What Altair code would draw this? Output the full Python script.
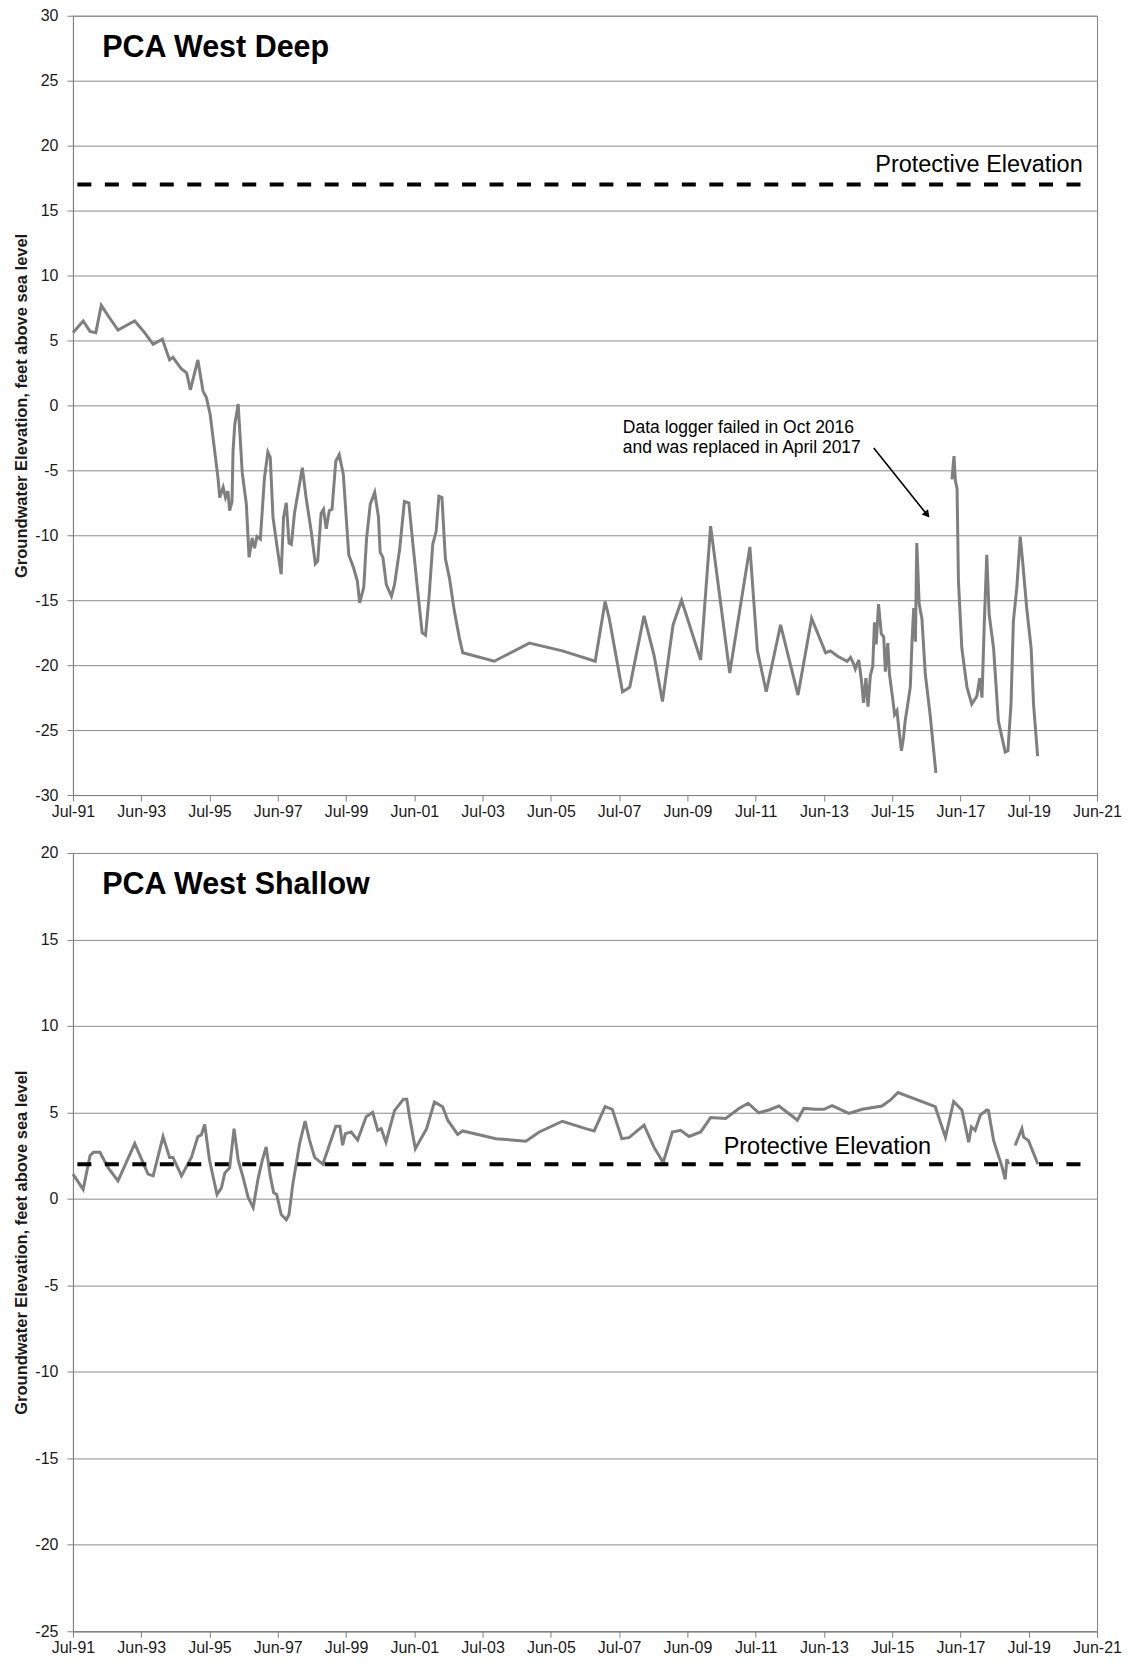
import altair as alt
import pandas as pd

FONT = "Liberation Sans"

# ---------------- data (decimal years, feet above sea level) ----------------
deep_years_a = [1991.5, 1991.8, 1992.0, 1992.17, 1992.33, 1992.53, 1992.82, 1993.31, 1993.6, 1993.85,
                1994.12, 1994.33, 1994.43, 1994.68, 1994.83, 1994.94, 1995.16, 1995.31, 1995.41, 1995.52,
                1995.75, 1995.8, 1995.9, 1995.97, 1996.04, 1996.09, 1996.16, 1996.19, 1996.24, 1996.34,
                1996.46, 1996.58, 1996.66, 1996.75, 1996.82, 1996.89, 1996.99, 1997.11, 1997.21, 1997.28,
                1997.36, 1997.47, 1997.6, 1997.67, 1997.75, 1997.83, 1997.9, 1997.99, 1998.22, 1998.33,
                1998.48, 1998.6, 1998.67, 1998.77, 1998.84, 1998.92, 1999.01, 1999.09, 1999.2, 1999.3,
                1999.42, 1999.58, 1999.72, 1999.83, 1999.9, 2000.02, 2000.1, 2000.21, 2000.34, 2000.45,
                2000.5, 2000.58, 2000.68, 2000.83, 2000.92, 2001.07, 2001.21, 2001.34, 2001.46, 2001.6,
                2001.73, 2001.83, 2001.93, 2002.04, 2002.14, 2002.22, 2002.31, 2002.41, 2002.53, 2002.67,
                2002.82, 2002.92, 2003.84, 2004.87, 2005.84, 2006.8, 2007.09, 2007.21, 2007.6, 2007.81,
                2008.23, 2008.52, 2008.77, 2009.08, 2009.33, 2009.89, 2010.18, 2010.74, 2011.33, 2011.55,
                2011.81, 2012.23, 2012.74, 2013.14, 2013.55, 2013.69, 2013.89, 2014.18, 2014.28, 2014.37,
                2014.42, 2014.52, 2014.6, 2014.66, 2014.73, 2014.79, 2014.86, 2014.93, 2014.98, 2015.03,
                2015.1, 2015.18, 2015.25, 2015.3, 2015.37, 2015.42, 2015.51, 2015.57, 2015.64, 2015.69,
                2015.77, 2015.83, 2015.88, 2016.03, 2016.08, 2016.13, 2016.18, 2016.22, 2016.29, 2016.37,
                2016.47, 2016.61, 2016.78]
deep_vals_a = [5.6, 6.5, 5.7, 5.6, 7.7, 6.9, 5.8, 6.5, 5.6, 4.7,
               5.1, 3.5, 3.7, 2.8, 2.5, 1.2, 3.5, 1.1, 0.6, -0.7,
               -5.6, -7.1, -6.3, -7.1, -6.6, -8.1, -7.4, -3.5, -1.5, 0.1,
               -5.2, -7.6, -11.7, -10.2, -11.0, -10.1, -10.3, -5.6, -3.6, -4.0,
               -8.6, -10.7, -13.0, -8.6, -7.5, -10.6, -10.7, -8.3, -4.8, -7.1,
               -9.7, -12.2, -12.0, -8.3, -8.0, -9.5, -8.1, -8.0, -4.3, -3.8,
               -5.3, -11.5, -12.5, -13.5, -15.2, -14.0, -10.3, -7.6, -6.7, -8.6,
               -11.3, -11.7, -13.8, -14.7, -13.8, -11.1, -7.4, -7.5, -10.7, -14.3,
               -17.5, -17.7, -14.8, -10.7, -9.7, -7.0, -7.1, -11.8, -13.3, -15.8,
               -17.9, -19.05, -19.7, -18.3, -18.9, -19.7, -15.1, -16.4, -22.05, -21.7,
               -16.2, -19.2, -22.8, -16.9, -15.0, -19.6, -9.3, -20.6, -10.9, -18.9,
               -22.05, -16.9, -22.3, -16.4, -19.05, -18.9, -19.3, -19.7, -19.4, -19.9,
               -20.3, -19.6, -21.2, -22.9, -21.0, -23.2, -20.8, -20.1, -16.7, -18.4,
               -15.3, -17.6, -17.8, -20.5, -18.3, -20.7, -22.5, -23.8, -23.5, -24.8,
               -26.6, -25.6, -24.3, -21.7, -18.2, -15.6, -18.2, -10.6, -15.3, -16.4,
               -20.7, -23.8, -28.3]
deep_years_b = [2017.25, 2017.31, 2017.35, 2017.4, 2017.44, 2017.54, 2017.69, 2017.83, 2017.98, 2018.06,
                2018.13, 2018.2, 2018.27, 2018.34, 2018.47, 2018.61, 2018.81, 2018.89, 2018.98, 2019.05,
                2019.15, 2019.25, 2019.32, 2019.44, 2019.57, 2019.64, 2019.76]
deep_vals_b = [-5.7, -3.9, -5.8, -6.4, -13.5, -18.7, -21.7, -23.0, -22.4, -21.0,
               -22.5, -16.6, -11.5, -16.1, -18.7, -24.3, -26.7, -26.6, -23.0, -16.6,
               -14.05, -10.1, -12.0, -15.6, -18.7, -23.0, -27.0]

shallow_years_a = [1991.5, 1991.8, 1992.0, 1992.1, 1992.29, 1992.53, 1992.82, 1993.31, 1993.7, 1993.85,
                   1994.14, 1994.33, 1994.43, 1994.68, 1994.97, 1995.16, 1995.26, 1995.36, 1995.5, 1995.72,
                   1995.85, 1995.95, 1996.09, 1996.22, 1996.34, 1996.48, 1996.63, 1996.78, 1996.92, 1997.05,
                   1997.16, 1997.28, 1997.38, 1997.47, 1997.6, 1997.75, 1997.83, 1997.94, 1998.14, 1998.3,
                   1998.43, 1998.58, 1998.82, 1999.01, 1999.2, 1999.32, 1999.4, 1999.48, 1999.65, 1999.84,
                   2000.09, 2000.28, 2000.43, 2000.53, 2000.67, 2000.92, 2001.18, 2001.28, 2001.36, 2001.53,
                   2001.86, 2002.09, 2002.33, 2002.48, 2002.77, 2002.92, 2003.89, 2004.77, 2005.16, 2005.84,
                   2006.52, 2006.77, 2007.09, 2007.3, 2007.58, 2007.79, 2008.23, 2008.52, 2008.79, 2009.06,
                   2009.3, 2009.55, 2009.89, 2010.18, 2010.62, 2011.01, 2011.28, 2011.59, 2011.89, 2012.18,
                   2012.47, 2012.72, 2012.91, 2013.25, 2013.5, 2013.74, 2014.23, 2014.62, 2015.2, 2015.45,
                   2015.67, 2016.76, 2017.06, 2017.3, 2017.54, 2017.74, 2017.82, 2017.93, 2018.08, 2018.27,
                   2018.32, 2018.47, 2018.61, 2018.71, 2018.81, 2018.86, 2018.91]
shallow_vals_a = [1.43, 0.55, 2.5, 2.7, 2.7, 1.8, 1.04, 3.2, 1.43, 1.33,
                  3.6, 2.4, 2.4, 1.33, 2.4, 3.6, 3.7, 4.3, 2.25, 0.25,
                  0.64, 1.5, 1.8, 4.06, 2.25, 1.27, 0.1, -0.5, 1.13, 2.25,
                  3.0, 1.33, 0.35, 0.25, -0.9, -1.2, -0.9, 0.84, 3.2, 4.5,
                  3.4, 2.4, 2.0, 3.1, 4.2, 4.2, 3.1, 3.77, 3.87, 3.4,
                  4.75, 5.0, 3.96, 4.06, 3.28, 5.1, 5.76, 5.76, 4.75, 2.9,
                  4.06, 5.6, 5.33, 4.55, 3.73, 3.93, 3.48, 3.34, 3.87, 4.49,
                  4.06, 3.93, 5.33, 5.18, 3.48, 3.54, 4.26, 2.99, 2.1, 3.87,
                  3.96, 3.61, 3.87, 4.7, 4.65, 5.23, 5.53, 4.98, 5.14, 5.37,
                  4.94, 4.55, 5.23, 5.18, 5.18, 5.39, 4.94, 5.18, 5.37, 5.72,
                  6.15, 5.33, 3.57, 5.63, 5.14, 3.28, 4.16, 3.96, 4.84, 5.14,
                  5.1, 3.38, 2.5, 1.91, 1.13, 2.3, 2.0]
shallow_years_b = [2019.1, 2019.3, 2019.35, 2019.49, 2019.77]
shallow_vals_b = [3.09, 4.06, 3.57, 3.38, 2.0]

deep_protective = 17
shallow_protective = 2
protective_span = [1991.63, 2021.08]

tick_labels = ["Jul-91", "Jun-93", "Jul-95", "Jun-97", "Jul-99", "Jun-01", "Jul-03", "Jun-05",
               "Jul-07", "Jun-09", "Jul-11", "Jun-13", "Jul-15", "Jun-17", "Jul-19", "Jun-21"]

# ---------------- helpers ----------------
T0 = pd.Timestamp("1991-07-01")


def ms(year):
    return int((T0 + pd.Timedelta(days=(year - 1991.5) * 365.25)).value // 10**6)


tick_ms = [int((T0 + pd.Timedelta(days=730.5 * i)).value // 10**6) for i in range(len(tick_labels))]
x_domain = [tick_ms[0], tick_ms[-1]]

Y_TITLE = "Groundwater Elevation, feet above sea level"


def X():
    return alt.X("date:T",
                 scale=alt.Scale(type="utc", domain=x_domain, nice=False),
                 axis=alt.Axis(values=tick_ms, format="%b-%y", title=None, grid=False,
                               tickSize=6, labelPadding=2, labelFlush=False, labelOverlap=False,
                               labelFont=FONT, labelFontSize=16, labelColor="#1a1a1a"))


def Y(lo, hi):
    return alt.Y("val:Q",
                 scale=alt.Scale(domain=[lo, hi], nice=False, zero=False),
                 axis=alt.Axis(values=list(range(lo, hi + 1, 5)), title=Y_TITLE, grid=True,
                               labelExpr="'' + datum.value",
                               tickSize=6, labelPadding=9, titlePadding=5,
                               labelFont=FONT, labelFontSize=16, labelColor="#1a1a1a",
                               titleFont=FONT, titleFontSize=16.5, titleFontWeight="bold",
                               titleColor="#1a1a1a"))


def series_frame(parts):
    rows = []
    for seg, (yrs, vals) in enumerate(parts):
        for y, v in zip(yrs, vals):
            rows.append({"date": ms(y), "val": v, "seg": seg})
    return pd.DataFrame(rows)


def panel(parts, lo, hi, protect, title, title_pos, pe_pos, pe_align, extras):
    xe, ye = X(), Y(lo, hi)
    line = alt.Chart(series_frame(parts)).mark_line(color="#7f7f7f", strokeWidth=3).encode(
        x=xe, y=ye, detail="seg:N")
    rule_df = pd.DataFrame({"date": [ms(protective_span[0])], "date2": [ms(protective_span[1])],
                            "val": [protect]})
    rule = alt.Chart(rule_df).mark_rule(color="black", strokeWidth=4, strokeDash=[14, 13.5]).encode(
        x=xe, x2="date2:T", y=ye)
    title_df = pd.DataFrame({"date": [ms(title_pos[0])], "val": [title_pos[1]], "label": [title]})
    ttl = alt.Chart(title_df).mark_text(align="left", baseline="alphabetic", font=FONT, fontSize=30.5,
                                         fontWeight="bold", color="black").encode(
        x=xe, y=ye, text="label:N")
    pe_df = pd.DataFrame({"date": [ms(pe_pos[0])], "val": [pe_pos[1]], "label": ["Protective Elevation"]})
    pe = alt.Chart(pe_df).mark_text(align=pe_align, baseline="alphabetic", font=FONT, fontSize=23.5,
                                    color="black").encode(x=xe, y=ye, text="label:N")
    layers = [line, rule, ttl, pe] + [e(xe, ye) for e in extras]
    return alt.layer(*layers).properties(width=1025, height=780 if hi == 30 else 779)


# annotation for the deep panel
note_lines = ["Data logger failed in Oct 2016", "and was replaced in April 2017"]
note_pos = [(2007.61, -2.13), (2007.61, -3.67)]
arrow_from = (2014.96, -3.28)
arrow_to = (2016.50, -8.35)


def note_layer(xe, ye):
    df = pd.DataFrame({"date": [ms(p[0]) for p in note_pos], "val": [p[1] for p in note_pos],
                       "label": note_lines})
    return alt.Chart(df).mark_text(align="left", baseline="alphabetic", font=FONT, fontSize=17.5,
                                   color="black").encode(x=xe, y=ye, text="label:N")


def arrow_line(xe, ye):
    df = pd.DataFrame({"date": [ms(arrow_from[0])], "date2": [ms(arrow_to[0])],
                       "val": [arrow_from[1]], "val2": [arrow_to[1]]})
    return alt.Chart(df).mark_rule(color="black", strokeWidth=1.6).encode(
        x=xe, x2="date2:T", y=ye, y2="val2:Q")


def arrow_head(xe, ye):
    df = pd.DataFrame({"date": [ms(arrow_to[0])], "val": [arrow_to[1]]})
    return alt.Chart(df).mark_point(shape="triangle", filled=True, size=70, angle=141,
                                    color="black", opacity=1).encode(x=xe, y=ye)


deep = panel([(deep_years_a, deep_vals_a), (deep_years_b, deep_vals_b)], -30, 30, deep_protective,
             "PCA West Deep", (1992.36, 26.85), (2021.08, 18.0), "right",
             [note_layer, arrow_line, arrow_head])
shallow = panel([(shallow_years_a, shallow_vals_a), (shallow_years_b, shallow_vals_b)], -25, 20,
                shallow_protective, "PCA West Shallow", (1992.36, 17.61), (2013.60, 2.6), "center", [])

chart = alt.vconcat(deep, shallow, spacing=24).properties(
    padding={"left": 5, "top": -2, "right": 0, "bottom": 0},
    background="white"
).configure_view(
    stroke="#808080", strokeWidth=1
).configure_axis(
    domainColor="#808080", tickColor="#808080", gridColor="#8c8c8c", gridWidth=1
)

chart.save("out.html", embed_options={"renderer": "svg", "actions": False})
